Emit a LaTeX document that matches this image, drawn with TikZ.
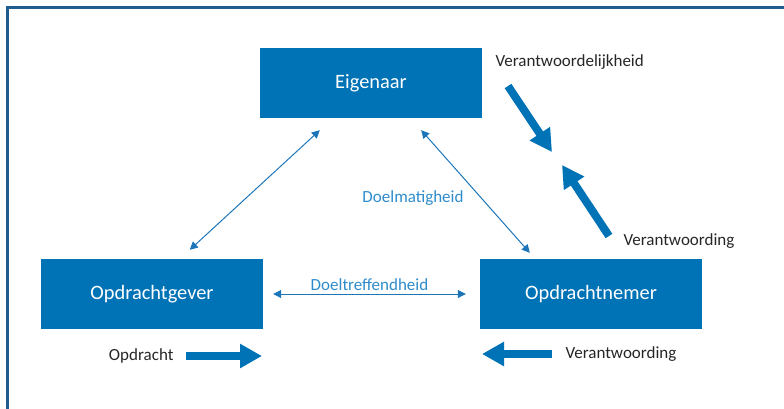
\documentclass[tikz,border=0pt]{standalone}
\usepackage{fontspec}
\setmainfont{Carlito}
\usetikzlibrary{arrows.meta}

\definecolor{boxblue}{RGB}{0,114,182}
\definecolor{frameblue}{RGB}{31,94,140}
\definecolor{linkblue}{RGB}{29,117,185}
\definecolor{lblblue}{RGB}{46,140,204}
\definecolor{textgray}{RGB}{38,38,38}

\begin{document}
\begin{tikzpicture}[x=1pt,y=-1pt,
    box/.style={fill=boxblue,text=white,minimum width=222pt,minimum height=70pt,
      inner sep=0pt,font=\fontsize{20.4}{24}\selectfont},
    lbl/.style={text=textgray,anchor=west,font=\fontsize{17}{20}\selectfont},
    blbl/.style={text=lblblue,font=\fontsize{17}{20}\selectfont},
    link/.style={linkblue,line width=1pt,{Triangle[length=8pt,width=8pt]}-{Triangle[length=8pt,width=8pt]}},
    fat/.style={boxblue,line width=8pt,-{Triangle[length=22pt,width=23pt]}}]
  \useasboundingbox (0,0) rectangle (784,409);
  % frame
  \draw[frameblue,line width=3pt] (7,430) |- (800,8);
  % boxes
  \foreach \pos/\name/\txt in
{{(371,83)/eig/Eigenaar},{(152,294)/gever/Opdrachtgever},{(591,294)/nemer/Opdrachtnemer}}
    \node[box] (\name) at \pos {\txt};
  % thin links
  \draw[link] ([xshift=60pt,yshift=-12pt]eig.south west) -- ([xshift=149pt,yshift=9pt]gever.north west);
  \draw[link] ([xshift=-61pt,yshift=-12pt]eig.south east) -- ([xshift=50pt,yshift=6pt]nemer.north west);
  \draw[link] ([xshift=10pt]gever.east) -- node[blbl,above,inner sep=2.5pt] (treff) {Doeltreffendheid} ([xshift=-14pt]nemer.west);
  \node[blbl] (matig) at (413,198) {Doelmatigheid};
  % labels
  \node[lbl] (vlijk) at (492,62) {Verantwoordelijkheid};
  \node[lbl] (vwrd1) at (620,241) {Verantwoording};
  \node[lbl,anchor=east] (opdr) at (177,356) {Opdracht};
  \node[lbl] (vwrd2) at (562,354) {Verantwoording};
  % fat arrows
  \coordinate (vl1) at (508,86);  \coordinate (vl2) at (552,152);
  \coordinate (vw1) at (609,236); \coordinate (vw2) at (562,165);
  \coordinate (op1) at (186,356); \coordinate (op2) at (262,356);
  \coordinate (vb1) at (552,354); \coordinate (vb2) at (482,354);
  \foreach \src/\tgt in {vl1/vl2,vw1/vw2,op1/op2,vb1/vb2}
    \draw[fat] (\src) -- (\tgt);
\end{tikzpicture}
\end{document}
